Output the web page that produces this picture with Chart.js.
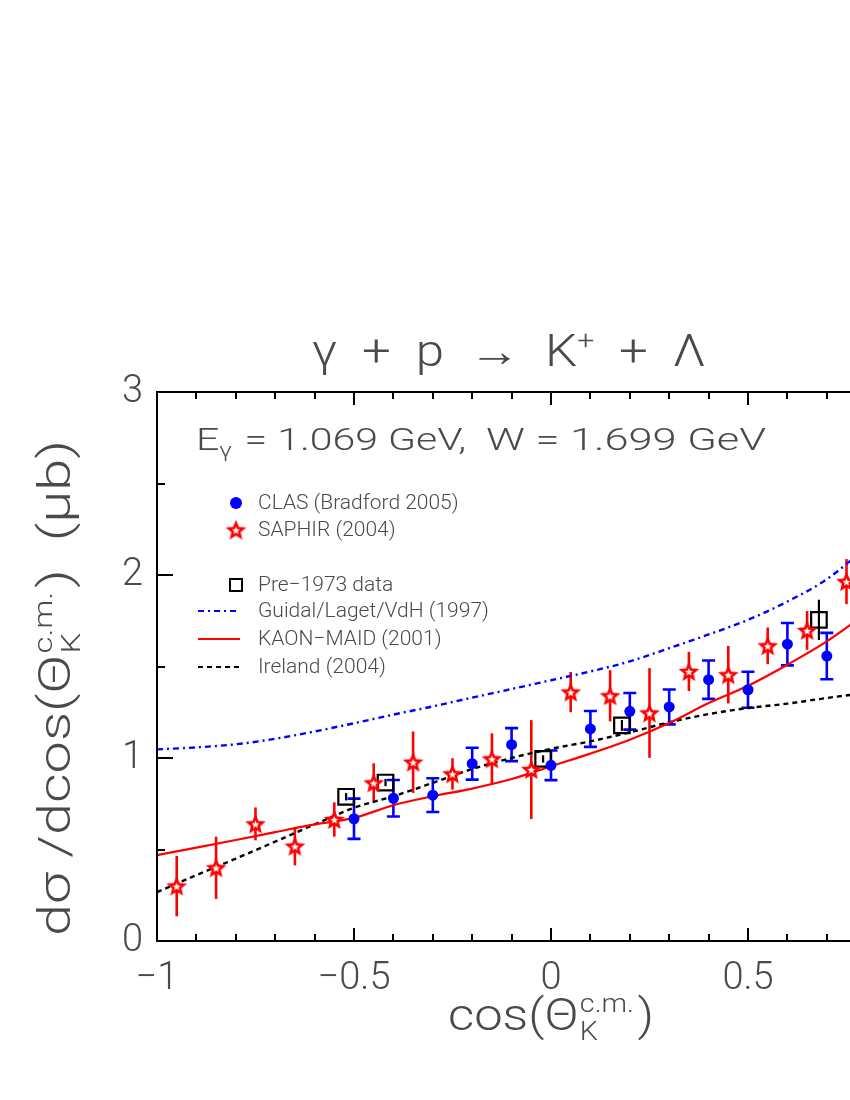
<!DOCTYPE html>
<html><head><meta charset="utf-8">
<script src="https://cdn.jsdelivr.net/npm/chart.js@4.4.1/dist/chart.umd.min.js"></script>
<style>
html,body{margin:0;padding:0;background:#fff;overflow:hidden;}
#wrap{width:850px;height:1100px;overflow:hidden;position:relative;background:#fff;}
canvas{display:block;}
</style></head><body>
<div id="wrap"><canvas id="c" width="1000" height="1100" style="width:1000px;height:1100px"></canvas></div>
<script>
// ---------- data ----------
const clasX   = [-0.5,-0.4,-0.3,-0.2,-0.1,0,0.1,0.2,0.3,0.4,0.5,0.6,0.7];
const clasY   = [0.668,0.780,0.797,0.969,1.073,0.960,1.159,1.255,1.279,1.428,1.373,1.622,1.557];
const clasErr = [0.110,0.100,0.092,0.087,0.090,0.081,0.098,0.100,0.095,0.105,0.098,0.116,0.127];

const saphirX   = [-0.95,-0.85,-0.75,-0.65,-0.55,-0.45,-0.35,-0.25,-0.15,-0.05,0.05,0.15,0.25,0.35,0.45,0.55,0.65,0.75];
const saphirY   = [0.300,0.400,0.640,0.518,0.664,0.864,0.977,0.913,0.995,0.937,1.360,1.340,1.246,1.473,1.455,1.613,1.697,1.964];
const saphirErr = [0.165,0.170,0.090,0.105,0.094,0.107,0.168,0.086,0.140,0.270,0.110,0.140,0.245,0.107,0.157,0.100,0.106,0.123];

const oldX   = [-0.52,-0.42,-0.02,0.18,0.68];
const oldY   = [0.788,0.866,0.995,1.178,1.755];
const oldErr = [0.02,0.02,0.02,0.03,0.11];

const curveX   = [-1,-0.9,-0.8,-0.7,-0.6,-0.5,-0.4,-0.3,-0.2,-0.1,0,0.1,0.2,0.3,0.4,0.5,0.6,0.7,0.8];
const guidalY  = [1.047,1.058,1.075,1.105,1.145,1.190,1.237,1.282,1.330,1.377,1.425,1.473,1.528,1.600,1.675,1.755,1.855,1.977,2.150];
const maidY    = [0.469,0.510,0.552,0.595,0.637,0.673,0.742,0.791,0.833,0.885,0.955,1.024,1.100,1.191,1.300,1.395,1.510,1.637,1.790];
const irelandY = [0.267,0.360,0.450,0.543,0.637,0.728,0.791,0.864,0.940,1.000,1.050,1.091,1.140,1.195,1.240,1.273,1.297,1.328,1.355];

const xTickLabels = {'-1':'\u22121','-0.5':'\u22120.5','0':'0','0.5':'0.5','1':'1'};
const yTickLabels = ['0','1','2','3'];

const legendLabels = ['CLAS (Bradford 2005)','SAPHIR (2004)','Pre\u22121973 data','Guidal/Laget/VdH (1997)','KAON\u2212MAID (2001)','Ireland (2004)'];

// ---------- helpers ----------
const FAM = 'Roboto, "Liberation Sans", Arial, sans-serif';
const W8 = 300;
const fnt = size => W8 + ' ' + size + 'px ' + FAM;
const TXT = '#4a4a4a';
const zip = (xs, ys) => xs.map((x,i)=>({x, y: ys[i]}));

function makeStar(R){
  const s = Math.ceil(R*2+8);
  const c = document.createElement('canvas'); c.width = s; c.height = s;
  const g = c.getContext('2d');
  g.translate(s/2, s/2 + R*0.1);
  g.beginPath();
  for (let i=0;i<10;i++){
    const r = i%2 ? R*0.45 : R;
    const a = -Math.PI/2 + i*Math.PI/5;
    g.lineTo(r*Math.cos(a), r*Math.sin(a));
  }
  g.closePath();
  g.fillStyle = '#fff'; g.fill();
  g.lineJoin = 'miter'; g.lineWidth = 2.6; g.strokeStyle = '#f00'; g.stroke();
  return c;
}
const starImg = makeStar(7.5);

function fitText(ctx, s, x, y, size, width, align){
  ctx.font = fnt(size);
  const w = ctx.measureText(s).width;
  const k = width ? width / w : 1;
  ctx.save();
  ctx.translate(x, y);
  ctx.scale(k, 1);
  ctx.textAlign = align || 'left';
  ctx.fillText(s, 0, 0);
  ctx.restore();
  return w * k;
}

function drawPieces(ctx, pieces, x, y, measureOnly){
  let cx = x;
  for (const p of pieces){
    ctx.font = fnt(p.size);
    if (p.stack){
      const w1 = ctx.measureText(p.sup).width, w2 = ctx.measureText(p.sub).width;
      if (!measureOnly){
        ctx.fillText(p.sup, cx, y - p.up);
        ctx.fillText(p.sub, cx, y + p.down);
      }
      cx += Math.max(w1, w2) + (p.gap || 0);
    } else {
      if (!measureOnly) ctx.fillText(p.t, cx, y + (p.dy || 0));
      cx += ctx.measureText(p.t).width + (p.gap || 0);
    }
  }
  return cx - x;
}
function drawPiecesFit(ctx, pieces, x, y, width){
  ctx.save();
  ctx.textAlign = 'left';
  const w = drawPieces(ctx, pieces, 0, 0, true);
  const k = width / w;
  ctx.translate(x, y);
  ctx.scale(k, 1);
  drawPieces(ctx, pieces, 0, 0, false);
  ctx.restore();
}

// ---------- plugins ----------
const errorBars = {
  id: 'errorBars',
  beforeDatasetsDraw(chart){
    const {ctx, chartArea:a, scales:{x, y}} = chart;
    ctx.save();
    ctx.beginPath(); ctx.rect(a.left, a.top, a.right-a.left, a.bottom-a.top); ctx.clip();
    const draw = (xs, ys, es, color, lw, cap) => {
      ctx.strokeStyle = color; ctx.lineWidth = lw;
      xs.forEach((v,i)=>{
        const px = x.getPixelForValue(v);
        const p1 = y.getPixelForValue(ys[i] - es[i]);
        const p2 = y.getPixelForValue(ys[i] + es[i]);
        ctx.beginPath(); ctx.moveTo(px, p1); ctx.lineTo(px, p2);
        if (cap){ ctx.moveTo(px-cap, p1); ctx.lineTo(px+cap, p1); ctx.moveTo(px-cap, p2); ctx.lineTo(px+cap, p2); }
        ctx.stroke();
      });
    };
    draw(saphirX, saphirY, saphirErr, '#ff0000', 2.6, 0);
    draw(oldX, oldY, oldErr, '#000000', 2.2, 0);
    draw(clasX, clasY, clasErr, '#0000ff', 2.6, 6.5);
    ctx.restore();
  }
};

const decor = {
  id: 'decor',
  afterDraw(chart){
    const {ctx, chartArea:a, scales:{x, y}} = chart;
    ctx.save();
    ctx.strokeStyle = '#000'; ctx.lineWidth = 2;
    ctx.strokeRect(a.left, a.top, a.right-a.left, a.bottom-a.top);
    for (let i=-10;i<=10;i++){
      const v = i/10, px = Math.round(x.getPixelForValue(v));
      const L = (i%5===0) ? 13 : 7;
      ctx.beginPath();
      ctx.moveTo(px, a.bottom); ctx.lineTo(px, a.bottom - L);
      ctx.moveTo(px, a.top); ctx.lineTo(px, a.top + L);
      ctx.stroke();
    }
    for (let i=0;i<=6;i++){
      const v = i/2, py = Math.round(y.getPixelForValue(v));
      const L = (i%2===0) ? 16 : 8;
      ctx.beginPath();
      ctx.moveTo(a.left, py); ctx.lineTo(a.left + L, py);
      ctx.moveTo(a.right, py); ctx.lineTo(a.right - L, py);
      ctx.stroke();
    }

    ctx.fillStyle = TXT;
    ctx.textBaseline = 'alphabetic';
    // title
    drawPiecesFit(ctx, [
      {t:'\u03b3  +  p  \u2192  K', size:44},
      {t:'+', size:26, dy:-17},
      {t:'  +  \u039b', size:44}
    ], 312, 366, 394);

    // energy annotation
    drawPiecesFit(ctx, [
      {t:'E', size:32},
      {t:'\u03b3', size:20, dy:7, gap:2},
      {t:' = 1.069 GeV,', size:32}
    ], 196, 450, 270);
    fitText(ctx, 'W = 1.699 GeV', 486, 450, 32, 280, 'left');

    // legend
    const lx0 = 198, lx1 = 236, tx = 258;
    const rows = [503, 530, 585, 611, 639, 667];
    ctx.font = fnt(21);
    ctx.textBaseline = 'middle';
    legendLabels.forEach((s,i)=>{ ctx.fillText(s, tx, rows[i] + 1); });
    ctx.fillStyle = '#0000ff';
    ctx.beginPath(); ctx.arc(lx1, rows[0], 6, 0, Math.PI*2); ctx.fill();
    ctx.drawImage(starImg, lx1 - starImg.width/2, rows[1] - starImg.height/2);
    ctx.strokeStyle = '#000'; ctx.lineWidth = 2;
    ctx.strokeRect(lx1 - 6, rows[2] - 6, 12, 12);
    ctx.lineWidth = 2.2;
    ctx.strokeStyle = '#0000ff'; ctx.setLineDash([6,4,2,4]);
    ctx.beginPath(); ctx.moveTo(lx0, rows[3]); ctx.lineTo(lx1+4, rows[3]); ctx.stroke();
    ctx.strokeStyle = '#ff0000'; ctx.setLineDash([]);
    ctx.beginPath(); ctx.moveTo(lx0, rows[4]); ctx.lineTo(lx1+4, rows[4]); ctx.stroke();
    ctx.strokeStyle = '#000'; ctx.setLineDash([5,4]);
    ctx.beginPath(); ctx.moveTo(lx0, rows[5]); ctx.lineTo(lx1+4, rows[5]); ctx.stroke();
    ctx.setLineDash([]);

    // axis titles
    ctx.fillStyle = TXT;
    ctx.textBaseline = 'alphabetic';
    drawPiecesFit(ctx, [
      {t:'cos(\u0398', size:44, gap:1},
      {stack:true, sup:'c.m.', sub:'K', size:25, up:18, down:10, gap:3},
      {t:')', size:44}
    ], 448, 1030, 206);

    ctx.save();
    ctx.translate(70, 936);
    ctx.rotate(-Math.PI/2);
    drawPiecesFit(ctx, [
      {t:'d\u03c3 /dcos(\u0398', size:44, gap:1},
      {stack:true, sup:'c.m.', sub:'K', size:25, up:18, down:10, gap:3},
      {t:')  (\u03bcb)', size:44}
    ], 0, 0, 496);
    ctx.restore();

    ctx.restore();
  }
};

// ---------- chart ----------
new Chart(document.getElementById('c'), {
  type: 'scatter',
  data: {
    datasets: [
      { label: legendLabels[0], data: zip(clasX, clasY), pointStyle: 'circle', pointRadius: 5.5,
        backgroundColor: '#0000ff', borderColor: '#0000ff', borderWidth: 0, order: 0 },
      { label: legendLabels[1], data: zip(saphirX, saphirY), pointStyle: starImg, pointRadius: 8, order: 0 },
      { label: legendLabels[2], data: zip(oldX, oldY), pointStyle: 'rect', pointRadius: 11,
        backgroundColor: 'rgba(0,0,0,0)', borderColor: '#000', borderWidth: 2.2, order: 0 },
      { label: legendLabels[3], data: zip(curveX, guidalY), showLine: true, pointRadius: 0,
        borderColor: '#0000ff', borderWidth: 2.4, borderDash: [6,4,2,4], cubicInterpolationMode: 'monotone', fill: false, order: 1 },
      { label: legendLabels[4], data: zip(curveX, maidY), showLine: true, pointRadius: 0,
        borderColor: '#ff0000', borderWidth: 2.2, cubicInterpolationMode: 'monotone', fill: false, order: 1 },
      { label: legendLabels[5], data: zip(curveX, irelandY), showLine: true, pointRadius: 0,
        borderColor: '#000000', borderWidth: 2.4, borderDash: [5,4], cubicInterpolationMode: 'monotone', fill: false, order: 1 }
    ]
  },
  options: {
    responsive: false,
    animation: false,
    events: [],
    layout: { padding: { left: 0, top: 392, right: 55, bottom: 0 } },
    plugins: { legend: { display: false }, tooltip: { enabled: false }, title: { display: false } },
    scales: {
      x: {
        type: 'linear', min: -1, max: 1,
        grid: { display: false, drawTicks: false },
        border: { display: false },
        ticks: { stepSize: 0.5, padding: 16, color: TXT, font: { family: FAM, size: 38, weight: W8 },
                 maxRotation: 0, autoSkip: false,
                 callback: v => xTickLabels[String(v)] ?? '' },
        afterFit: s => { s.height = 159; }
      },
      y: {
        type: 'linear', min: 0, max: 3,
        grid: { display: false, drawTicks: false },
        border: { display: false },
        ticks: { stepSize: 1, padding: 14, color: TXT, font: { family: FAM, size: 38, weight: W8 },
                 callback: v => yTickLabels[v] ?? '' },
        afterFit: s => { s.width = 157; }
      }
    }
  },
  plugins: [errorBars, decor]
});
</script></body></html>
